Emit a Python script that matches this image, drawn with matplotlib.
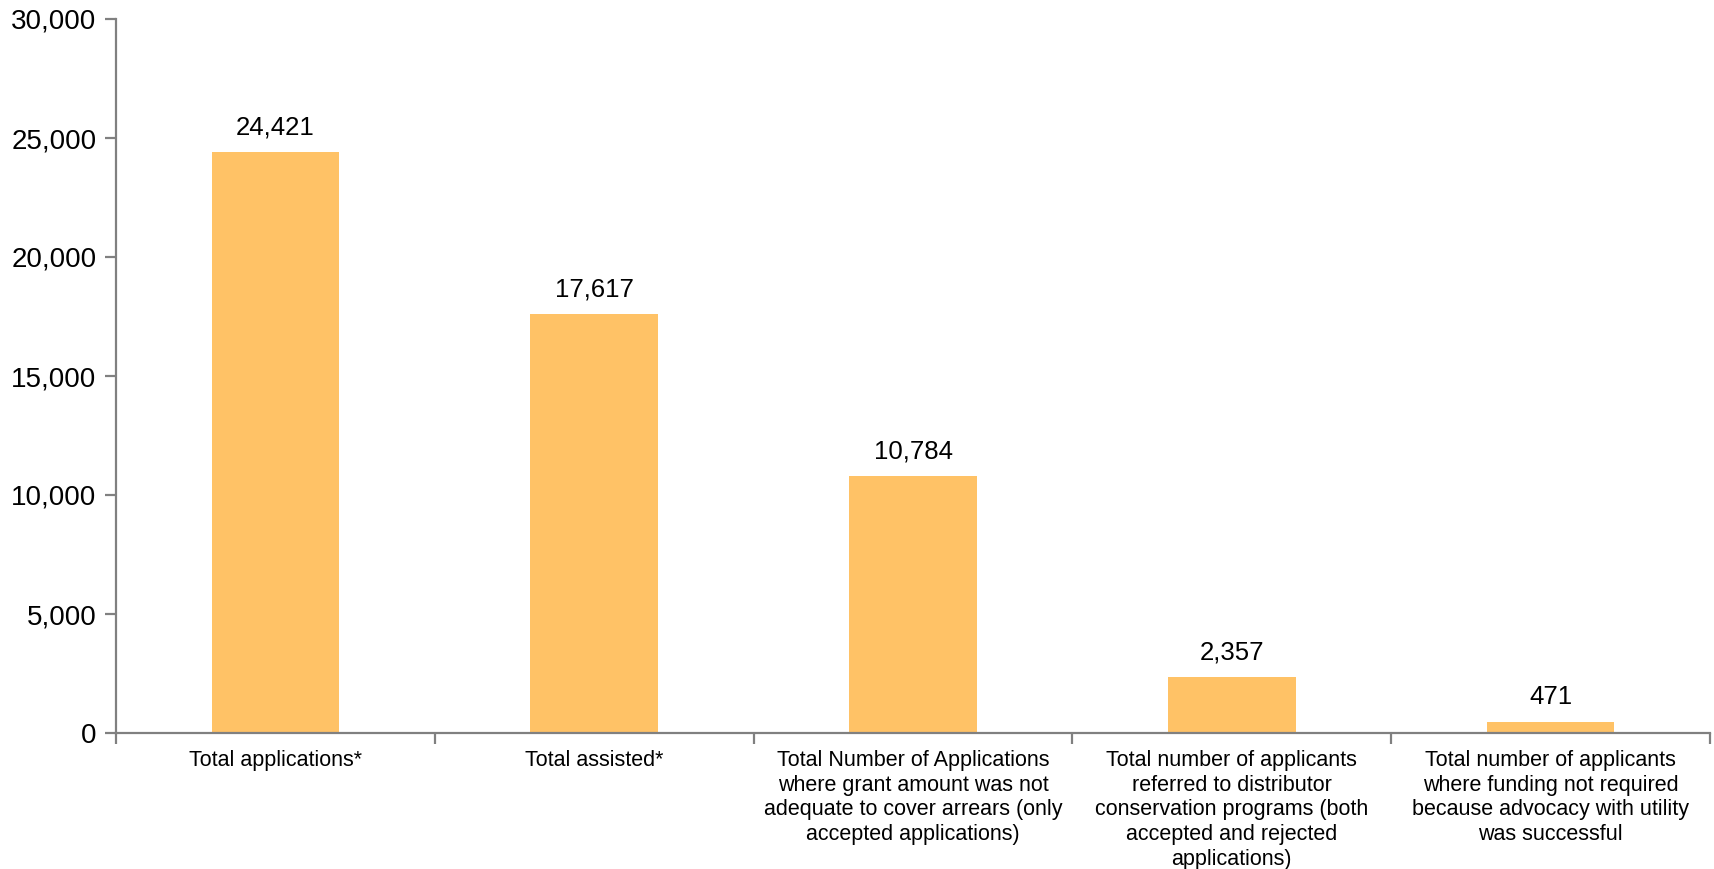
import matplotlib
matplotlib.use("Agg")
import matplotlib.pyplot as plt
from matplotlib.ticker import FuncFormatter, FixedLocator
import numpy as np

categories = [
    "Total applications*",
    "Total assisted*",
    "Total Number of Applications\nwhere grant amount was not\nadequate to cover arrears (only\naccepted applications)",
    "Total number of applicants\nreferred to distributor\nconservation programs (both\naccepted and rejected\napplications)",
    "Total number of applicants\nwhere funding not required\nbecause advocacy with utility\nwas successful",
]
values = [24421, 17617, 10784, 2357, 471]
y_ticks = [0, 5000, 10000, 15000, 20000, 25000, 30000]

plt.rcParams['font.family'] = ['Liberation Sans', 'DejaVu Sans']

fig = plt.figure(figsize=(17.14, 8.69), dpi=100)
ax = fig.add_axes([116/1714, 1-733/869, (1710-116)/1714, (733-19)/869])

x = np.arange(len(categories))
bars = ax.bar(x, values, width=0.4, color='#FFC266', zorder=2)

ax.set_xlim(-0.5, len(categories) - 0.5)
ax.set_ylim(0, 30000)
ax.yaxis.set_major_locator(FixedLocator(y_ticks))
ax.yaxis.set_major_formatter(FuncFormatter(lambda v, p: f"{int(v):,}"))

ax.xaxis.set_major_locator(FixedLocator(np.arange(-0.5, len(categories), 1.0)))
ax.xaxis.set_major_formatter(FuncFormatter(lambda v, p: ""))
ax.xaxis.set_minor_locator(FixedLocator(x))
ax.set_xticklabels(categories, minor=True, fontsize=15.5, linespacing=1.24)
ax.tick_params(axis='x', which='minor', length=0, pad=12)
ax.tick_params(axis='x', which='major', length=8, width=1.6, color='#808080', direction='out')
ax.tick_params(axis='y', length=8, width=1.6, color='#808080', direction='out', labelsize=20, pad=6)

for s in ['top', 'right']:
    ax.spines[s].set_visible(False)
for s in ['left', 'bottom']:
    ax.spines[s].set_color('#808080')
    ax.spines[s].set_linewidth(1.6)

for xi, v in zip(x, values):
    ax.annotate(f"{v:,}", (xi, v), xytext=(0, 9), textcoords='offset points',
                ha='center', va='bottom', fontsize=18.5)

fig.savefig("out.png", dpi=100)
